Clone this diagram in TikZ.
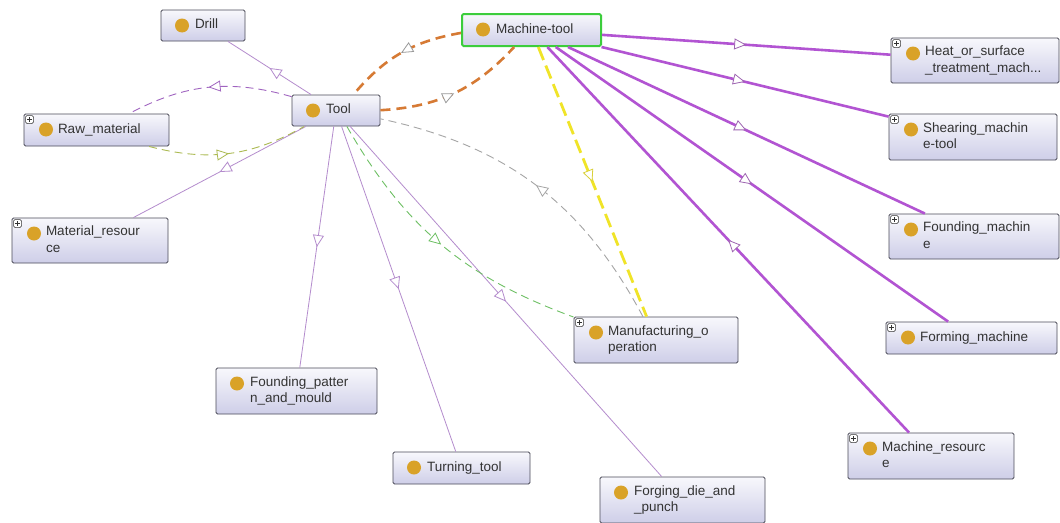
\documentclass[tikz,border=0pt]{standalone}
\usepackage{fontspec}
\setmainfont{Liberation Sans}
\usetikzlibrary{arrows.meta,decorations.markings}
\definecolor{dotc}{RGB}{217,162,40}
\definecolor{boxline}{RGB}{75,75,88}
\definecolor{boxtop}{RGB}{248,248,252}
\definecolor{boxbot}{RGB}{206,206,232}
\definecolor{selc}{RGB}{60,205,60}
\definecolor{lilac}{RGB}{180,140,205}
\definecolor{violet}{RGB}{178,84,210}
\definecolor{orng}{RGB}{214,122,52}
\definecolor{yel}{RGB}{240,228,40}
\definecolor{gry}{RGB}{165,165,165}
\definecolor{grn}{RGB}{110,192,100}
\definecolor{purd}{RGB}{160,100,192}
\definecolor{oliv}{RGB}{172,186,82}
\newcommand{\cls}[1]{\begin{tabular}{@{\hspace{22pt}}l@{}}#1\end{tabular}}

\tikzset{
  clsbox/.style={rectangle, rounded corners=1.5pt, draw=boxline, line width=0.9pt,
    top color=boxtop, bottom color=boxbot, inner xsep=12pt, inner ysep=0pt,
    align=left, text=black!80, font=\fontsize{13.5pt}{16.5pt}\selectfont,
    path picture={\fill[dotc] ([shift={(21pt,-15.5pt)}]path picture bounding box.north west) circle[radius=7pt];}},
  clsplus/.style={clsbox,
    path picture={\fill[dotc] ([shift={(22pt,-15.5pt)}]path picture bounding box.north west) circle[radius=7pt];
      \draw[black!80,fill=white,line width=0.5pt] ([shift={(1.5pt,-1.5pt)}]path picture bounding box.north west) rectangle ++(8pt,-8pt);
      \draw[black!80,line width=0.6pt] ([shift={(3.3pt,-5.5pt)}]path picture bounding box.north west) -- ++(4.4pt,0pt)
        ([shift={(5.5pt,-3.3pt)}]path picture bounding box.north west) -- ++(0pt,-4.4pt);}},
  midtip/.style={postaction={decorate,solid}, decoration={markings, mark=at position 0.5 with
    {\arrow{Triangle[length=12pt,width=11pt,line width=0.8pt,color=#1,fill=white]}}}},
  subline/.style={draw=lilac, line width=0.8pt, midtip=lilac},
  mtline/.style={draw=violet, line width=2.6pt, midtip=violet!60!gray},
  orline/.style={draw=orng, line width=2.6pt, dash pattern=on 10pt off 6pt, midtip=gray!80},
  yelline/.style={draw=yel, line width=2.8pt, dash pattern=on 14pt off 6pt, midtip=yel!80!gray},
  thindash/.style={draw=#1, line width=0.9pt, dash pattern=on 8pt off 5pt, midtip=#1}
}

\begin{document}
\begin{tikzpicture}[x=1pt,y=-1pt]
\fill[white] (0,0) rectangle (1060,522);
\useasboundingbox (0,0) rectangle (1060,522);

\node[clsbox, text width=60pt, minimum height=31pt] (drill) at (203,25.5) {\cls{Drill}};
\node[clsbox, text width=115pt, minimum height=32pt, draw=selc, line width=2pt] (mt) at (531.5,30) {\cls{Machine-tool}};
\node[clsbox, text width=64pt, minimum height=31pt] (tool) at (336,110.5) {\cls{Tool}};
\node[clsplus, text width=121pt, minimum height=32pt] (raw) at (96.5,130) {\cls{Raw\_material}};
\node[clsplus, text width=132pt, minimum height=45pt] (matres) at (90,240.5) {\cls{Material\_resour\\ce}};
\node[clsplus, text width=144pt, minimum height=45pt] (heat) at (975,60.5) {\cls{Heat\_or\_surface\\\_treatment\_mach...}};
\node[clsplus, text width=144pt, minimum height=46pt] (shear) at (973,137) {\cls{Shearing\_machin\\e-tool}};
\node[clsplus, text width=146pt, minimum height=45pt] (foundm) at (974,236.5) {\cls{Founding\_machin\\e}};
\node[clsplus, text width=147pt, minimum height=32pt] (forming) at (971.5,338) {\cls{Forming\_machine}};
\node[clsplus, text width=142pt, minimum height=46pt] (machres) at (931,456) {\cls{Machine\_resourc\\e}};
\node[clsplus, text width=140pt, minimum height=46pt] (mfg) at (656,340) {\cls{Manufacturing\_o\\peration}};
\node[clsbox, text width=137pt, minimum height=46pt] (foundp) at (296.5,391) {\cls{Founding\_patter\\n\_and\_mould}};
\node[clsbox, text width=113pt, minimum height=32pt] (turning) at (461.5,468) {\cls{Turning\_tool}};
\node[clsbox, text width=141pt, minimum height=46pt] (forging) at (682.5,500) {\cls{Forging\_die\_and\\\_punch}};

\draw[subline] (tool) -- (drill);
\draw[subline] (tool) -- (matres);
\draw[subline] (tool) -- (foundp);
\draw[subline] (tool) -- (turning);
\draw[subline] (tool) -- (forging);
\draw[mtline] (mt) -- (heat);
\draw[mtline] (mt) -- (shear);
\draw[mtline] (mt) -- (foundm);
\draw[mtline] (mt) -- (forming);
\draw[mtline] (machres) -- (mt);
\draw[yelline] (mt) -- (mfg);
\draw[orline] (mt) to[bend right=20] (tool);
\draw[orline] (tool) to[bend right=22] (mt);
\draw[thindash=purd] (tool) to[bend right=22] (raw);
\draw[thindash=oliv] (raw) to[bend right=22] (tool);
\draw[thindash=gry] (mfg) to[bend right=25] (tool);
\draw[thindash=grn] (tool) to[bend right=20] (mfg);
\end{tikzpicture}
\end{document}
